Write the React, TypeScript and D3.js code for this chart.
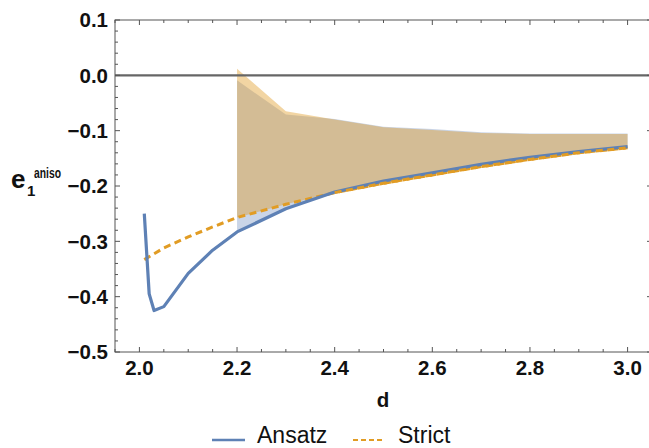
import React from "react";
import * as d3 from "d3";

const ansatzD = [2.01, 2.02, 2.03, 2.05, 2.1, 2.15, 2.2, 2.3, 2.4, 2.5, 2.6, 2.7, 2.8, 2.9, 3.0];
const ansatzV = [-0.25, -0.395, -0.425, -0.418, -0.358, -0.316, -0.283, -0.241, -0.211, -0.191, -0.176, -0.161, -0.148, -0.138, -0.129];
const strictD = [2.01, 2.05, 2.1, 2.15, 2.2, 2.3, 2.4, 2.5, 2.6, 2.7, 2.8, 2.9, 3.0];
const strictV = [-0.333, -0.312, -0.292, -0.274, -0.257, -0.233, -0.212, -0.195, -0.18, -0.165, -0.152, -0.14, -0.131];
const bandD = [2.2, 2.3, 2.4, 2.5, 2.6, 2.7, 2.8, 2.9, 3.0];
const ansatzUpper = [-0.009, -0.071, -0.079, -0.093, -0.097, -0.103, -0.105, -0.105, -0.105];
const ansatzLower = [-0.283, -0.241, -0.211, -0.191, -0.176, -0.161, -0.148, -0.138, -0.129];
const strictUpper = [0.012, -0.065, -0.08, -0.094, -0.099, -0.104, -0.106, -0.106, -0.106];
const strictLower = [-0.257, -0.233, -0.212, -0.195, -0.18, -0.165, -0.152, -0.14, -0.131];
const xTicks = [2.0, 2.2, 2.4, 2.6, 2.8, 3.0];
const yTicks = [0.1, 0.0, -0.1, -0.2, -0.3, -0.4, -0.5];
const legendLabels = ["Ansatz", "Strict"];

const BLUE = "#5E81B5";
const ORANGE = "#E19C24";
const FONT = "'Liberation Sans', Arial, Helvetica, sans-serif";

export default function App() {
  const W = 649, H = 448;
  const L = 115, R = 652, T = 20, B = 352;
  const x = d3.scaleLinear().domain([1.95, 3.05]).range([L, R]);
  const y = d3.scaleLinear().domain([-0.5, 0.1]).range([B, T]);

  const line = d3.line<[number, number]>().x(d => x(d[0])).y(d => y(d[1]));
  const ansatzPts: [number, number][] = ansatzD.map((d, i) => [d, ansatzV[i]]);
  const strictPts: [number, number][] = strictD.map((d, i) => [d, strictV[i]]);

  const band = (up: number[], lo: number[]) =>
    d3.area<number>()
      .x(d => x(d))
      .y0((_, i) => y(lo[i]))
      .y1((_, i) => y(up[i]))(bandD) || "";

  const xMinor = d3.range(1.95, 3.051, 0.05).map(v => Math.round(v * 100) / 100);
  const yMinor = d3.range(-0.5, 0.1001, 0.02).map(v => Math.round(v * 100) / 100);
  const fmt = (v: number) => (v < 0 ? "\u2212" : "") + Math.abs(v).toFixed(1);
  const axisColor = "#555";

  return (
    <svg width={W} height={H} style={{ position: "absolute", left: 0, top: 0, background: "#fff" }} fontFamily={FONT}>
      <path d={band(ansatzUpper, ansatzLower)} fill={BLUE} fillOpacity={0.33} />
      <path d={band(strictUpper, strictLower)} fill={ORANGE} fillOpacity={0.42} />
      <line x1={L} x2={R} y1={y(0)} y2={y(0)} stroke="#666" strokeWidth={2.2} />
      <rect x={L} y={T} width={R - L} height={B - T} fill="none" stroke={axisColor} strokeWidth={1} />
      {xMinor.map((v, i) => {
        const major = Math.abs(v * 10 - Math.round(v * 10)) < 1e-6 && Math.round(v * 10) % 2 === 0;
        const len = major ? 5 : 3;
        return (
          <g key={"xt" + i}>
            <line x1={x(v)} x2={x(v)} y1={B} y2={B - len} stroke={axisColor} strokeWidth={1} />
            <line x1={x(v)} x2={x(v)} y1={T} y2={T + len} stroke={axisColor} strokeWidth={1} />
          </g>
        );
      })}
      {yMinor.map((v, i) => {
        const major = Math.abs(v * 10 - Math.round(v * 10)) < 1e-6;
        const len = major ? 5 : 3;
        return (
          <g key={"yt" + i}>
            <line x1={L} x2={L + len} y1={y(v)} y2={y(v)} stroke={axisColor} strokeWidth={1} />
            <line x1={R} x2={R - len} y1={y(v)} y2={y(v)} stroke={axisColor} strokeWidth={1} />
          </g>
        );
      })}
      {xTicks.map((v, i) => (
        <text key={"xl" + i} x={x(v)} y={375} textAnchor="middle" fontSize={20.5} fontWeight="bold" fill="#111">
          {v.toFixed(1)}
        </text>
      ))}
      {yTicks.map((v, i) => (
        <text key={"yl" + i} x={108} y={y(v)} dy="0.35em" textAnchor="end" fontSize={20.5} fontWeight="bold" fill="#111">
          {fmt(v)}
        </text>
      ))}
      <text x={383} y={407} textAnchor="middle" fontSize={20.5} fontWeight="bold" fill="#111">d</text>
      <text x={11} y={188} fontSize={26} fontWeight="bold" fill="#111">e</text>
      <text x={27} y={196} fontSize={15} fontWeight="bold" fill="#111">1</text>
      <text x={34} y={178} fontSize={14} fontWeight="bold" fill="#111" textLength={27} lengthAdjust="spacingAndGlyphs">aniso</text>
      <path d={line(strictPts) || ""} fill="none" stroke={ORANGE} strokeWidth={3} strokeDasharray="7,4.5" />
      <path d={line(ansatzPts) || ""} fill="none" stroke={BLUE} strokeWidth={3.2} strokeLinejoin="round" />
      <path d={line(strictPts.filter(p => p[0] >= 2.35)) || ""} fill="none" stroke={ORANGE} strokeWidth={3} strokeDasharray="7,4.5" />
      <line x1={212} x2={245} y1={440} y2={440} stroke={BLUE} strokeWidth={2.5} />
      <text x={257} y={443} fontSize={23} fill="#111">{legendLabels[0]}</text>
      <line x1={353} x2={383} y1={440} y2={440} stroke={ORANGE} strokeWidth={2} strokeDasharray="5,3" />
      <text x={398} y={443} fontSize={23} fill="#111">{legendLabels[1]}</text>
    </svg>
  );
}
